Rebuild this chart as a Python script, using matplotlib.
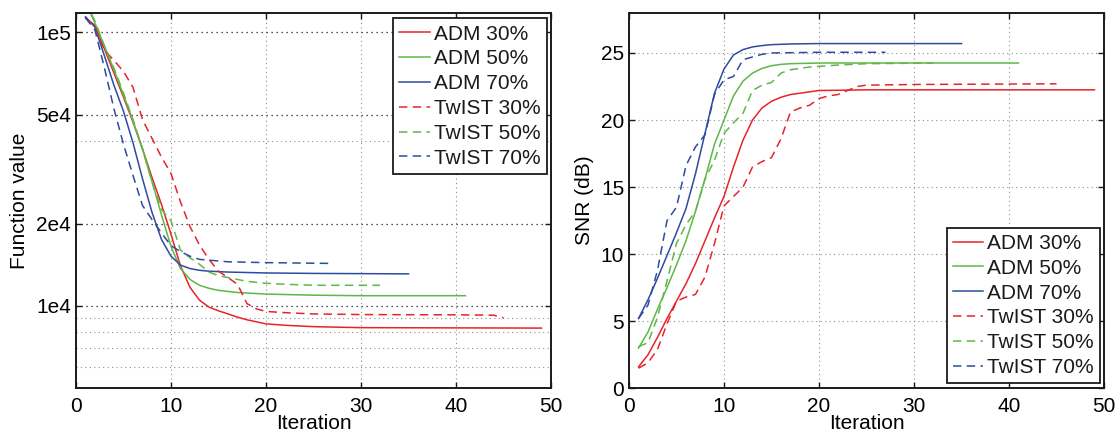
import numpy as np
import matplotlib
matplotlib.use("Agg")
import matplotlib.pyplot as plt
import matplotlib.ticker as ticker

plt.rcParams['font.family'] = ['Liberation Sans', 'DejaVu Sans']

labels = ["ADM 30%", "ADM 50%", "ADM 70%", "TwIST 30%", "TwIST 50%", "TwIST 70%"]

# function value per iteration
fv_adm30_it = list(range(1, 21)) + [22, 25, 30, 49]
fv_adm30 = [1.13e5, 1.06e5, 8.7e4, 7.1e4, 5.8e4, 4.7e4, 3.75e4, 2.95e4, 2.35e4, 1.83e4,
            1.4e4, 1.17e4, 1.05e4, 9.9e3, 9.6e3, 9.35e3, 9.1e3, 8.9e3, 8.75e3, 8.6e3,
            8.5e3, 8.4e3, 8.33e3, 8.3e3]
fv_adm50_it = list(range(1, 18)) + [20, 25, 30, 41]
fv_adm50 = [1.29e5, 1.08e5, 8.9e4, 7.3e4, 5.9e4, 4.75e4, 3.75e4, 2.85e4, 2.15e4, 1.65e4,
            1.37e4, 1.25e4, 1.19e4, 1.16e4, 1.14e4, 1.13e4, 1.12e4,
            1.105e4, 1.095e4, 1.09e4, 1.09e4]
fv_adm70_it = list(range(1, 17)) + [20, 25, 35]
fv_adm70 = [1.14e5, 1.045e5, 8.2e4, 6.4e4, 5.15e4, 3.95e4, 2.92e4, 2.2e4, 1.75e4, 1.52e4,
            1.41e4, 1.37e4, 1.35e4, 1.34e4, 1.335e4, 1.33e4, 1.32e4, 1.315e4, 1.31e4]
fv_tw30_it = list(range(1, 21)) + [22, 25, 30, 40, 44, 45]
fv_tw30 = [1.13e5, 1.05e5, 8.6e4, 7.9e4, 7.2e4, 6.3e4, 4.8e4, 4.1e4, 3.5e4, 3.05e4,
           2.4e4, 1.95e4, 1.67e4, 1.48e4, 1.34e4, 1.27e4, 1.2e4, 1.02e4, 9.75e3, 9.55e3,
           9.45e3, 9.35e3, 9.3e3, 9.28e3, 9.25e3, 9.05e3]
fv_tw50_it = list(range(1, 19)) + [20, 22, 25, 32]
fv_tw50 = [1.29e5, 1.1e5, 8.9e4, 7.4e4, 6.0e4, 4.8e4, 3.75e4, 2.85e4, 2.25e4, 2.05e4,
           1.6e4, 1.5e4, 1.42e4, 1.33e4, 1.29e4, 1.27e4, 1.25e4, 1.23e4,
           1.21e4, 1.2e4, 1.19e4, 1.19e4]
fv_tw70_it = list(range(1, 17)) + [20, 27]
fv_tw70 = [1.13e5, 1.02e5, 7.4e4, 5.25e4, 3.9e4, 3.0e4, 2.33e4, 2.07e4, 1.85e4, 1.66e4,
           1.58e4, 1.52e4, 1.48e4, 1.47e4, 1.46e4, 1.45e4, 1.44e4, 1.43e4]

# SNR (dB) per iteration
snr_adm30_it = list(range(1, 21)) + [25, 49]
snr_adm30 = [1.6, 2.5, 3.8, 5.2, 6.5, 7.8, 9.3, 11.0, 12.7, 14.3,
             16.5, 18.5, 20.0, 20.9, 21.4, 21.7, 21.9, 22.0, 22.1, 22.2, 22.25, 22.25]
snr_adm50_it = list(range(1, 18)) + [20, 41]
snr_adm50 = [3.0, 4.2, 5.9, 7.5, 9.2, 11.0, 13.2, 15.6, 18.2, 20.0,
             21.8, 22.9, 23.5, 23.85, 24.05, 24.15, 24.2, 24.25, 24.25]
snr_adm70_it = list(range(1, 16)) + [17, 20, 35]
snr_adm70 = [5.2, 6.6, 8.2, 9.9, 11.6, 13.4, 16.0, 19.0, 22.0, 23.8,
             24.85, 25.25, 25.45, 25.55, 25.62, 25.67, 25.7, 25.7]
snr_tw30_it = list(range(1, 26)) + [30, 45]
snr_tw30 = [1.5, 1.9, 2.9, 4.8, 6.5, 6.8, 7.0, 8.3, 10.8, 13.6,
            14.3, 15.0, 16.5, 16.9, 17.2, 18.6, 20.6, 20.9, 21.1, 21.6,
            21.8, 21.9, 22.2, 22.5, 22.6, 22.65, 22.7]
snr_tw50_it = list(range(1, 21)) + [22, 25, 32]
snr_tw50 = [3.1, 3.4, 5.3, 8.0, 10.8, 12.2, 13.2, 15.6, 17.0, 19.0,
            19.8, 20.5, 22.2, 22.6, 22.8, 23.5, 23.75, 23.85, 23.95, 24.0,
            24.1, 24.2, 24.25]
snr_tw70_it = list(range(1, 16)) + [20, 27]
snr_tw70 = [5.2, 6.2, 8.8, 12.5, 13.5, 16.6, 18.0, 18.9, 21.9, 23.0,
            23.25, 24.5, 24.7, 24.9, 25.0, 25.05, 25.05]

red = '#e8232a'
green = '#5cb947'
blue = '#2d4ca0'
colors = [red, green, blue, red, green, blue]
styles = ['-', '-', '-', '--', '--', '--']

fv_series = [(fv_adm30_it, fv_adm30), (fv_adm50_it, fv_adm50), (fv_adm70_it, fv_adm70),
             (fv_tw30_it, fv_tw30), (fv_tw50_it, fv_tw50), (fv_tw70_it, fv_tw70)]
snr_series = [(snr_adm30_it, snr_adm30), (snr_adm50_it, snr_adm50), (snr_adm70_it, snr_adm70),
              (snr_tw30_it, snr_tw30), (snr_tw50_it, snr_tw50), (snr_tw70_it, snr_tw70)]

fs = 15
fig = plt.figure(figsize=(11.19, 4.34), dpi=100)
ax1 = fig.add_axes([0.0679, 0.1053, 0.4245, 0.8654])
ax2 = fig.add_axes([0.5621, 0.1053, 0.4245, 0.8654])

for ax, series in [(ax1, fv_series), (ax2, snr_series)]:
    for (it, val), c, ls, lab in zip(series, colors, styles, labels):
        line, = ax.plot(it, val, color=c, linestyle=ls, linewidth=1.1, label=lab)
        if ls == '--':
            line.set_dashes((5.5, 3.5))

# left: function value (log)
ax1.set_yscale('log')
ax1.set_xlim(0, 50)
ax1.set_ylim(5000, 1.18e5)
ax1.yaxis.set_major_locator(ticker.FixedLocator([1e4, 2e4, 5e4, 1e5]))
ax1.yaxis.set_major_formatter(ticker.FixedFormatter(['1e4', '2e4', '5e4', '1e5']))
ax1.yaxis.set_minor_locator(ticker.FixedLocator([6e3, 7e3, 8e3, 9e3, 4e4]))
ax1.yaxis.set_minor_formatter(ticker.NullFormatter())
ax1.set_ylabel('Function value', fontsize=fs, labelpad=5)
ax1.grid(True, which='major', axis='y', color='0.1', linestyle=(0, (1, 3)), linewidth=0.9)
ax1.grid(True, which='minor', axis='y', color='0.55', linestyle=(0, (1, 3)), linewidth=0.8)
ax1.grid(True, which='major', axis='x', color='0.55', linestyle=(0, (1, 3)), linewidth=0.8)

# right: SNR
ax2.set_xlim(0, 50)
ax2.set_ylim(0, 28)
ax2.set_yticks([0, 5, 10, 15, 20, 25])
ax2.set_ylabel('SNR (dB)', fontsize=fs, labelpad=5)
ax2.grid(True, color='0.55', linestyle=(0, (1, 3)), linewidth=0.8)

for ax in [ax1, ax2]:
    ax.set_xticks([0, 10, 20, 30, 40, 50])
    ax.set_xlabel('Iteration', fontsize=fs, labelpad=-1)
    ax.tick_params(which='both', direction='in', top=True, right=True, labelsize=fs,
                   length=4, width=1.0, color='0.1')
    ax.tick_params(axis='x', pad=6)
    ax.tick_params(which='minor', length=0)
    for sp in ax.spines.values():
        sp.set_linewidth(1.4)
        sp.set_color('0.1')
    ax.set_axisbelow(True)

leg_kw = dict(fontsize=fs, fancybox=False, framealpha=1, edgecolor='0.1',
              handlelength=1.45, handletextpad=0.2, labelspacing=0.28,
              borderpad=0.3, borderaxespad=0)
leg1 = ax1.legend(loc='upper right', bbox_to_anchor=(0.991, 0.985), **leg_kw)
leg2 = ax2.legend(loc='lower right', bbox_to_anchor=(0.9916, 0.0133), **leg_kw)
for leg in [leg1, leg2]:
    leg.get_frame().set_linewidth(1.3)
    for t in leg.get_texts():
        t.set_color('0.1')

plt.savefig('out.png', dpi=100)
